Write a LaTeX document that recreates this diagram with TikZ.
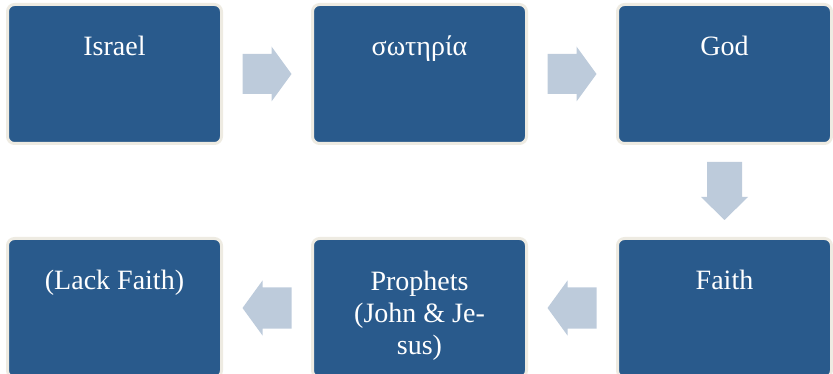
\documentclass[tikz,border=0pt]{standalone}
\usepackage{fontspec}
\setmainfont{Liberation Serif}
\usetikzlibrary{positioning,calc}
\definecolor{boxblue}{RGB}{41,90,140}
\definecolor{boxrim}{RGB}{238,235,226}
\definecolor{arrowgray}{RGB}{189,203,219}

\tikzset{
  stagebox/.style={draw=boxrim, line width=3pt, fill=boxblue, rounded corners=7pt,
    minimum width=214pt, minimum height=139pt, inner sep=0pt},
  stagetext/.style={text=white, font=\fontsize{28}{32}\selectfont, align=center,
    anchor=base, inner sep=0pt},
  pics/blockarrow/.style n args={4}{code={
    \fill[arrowgray] ({-#1/2},{-#2/2}) -- ({#1/2-#4},{-#2/2}) -- ({#1/2-#4},{-#3/2})
      -- ({#1/2},0) -- ({#1/2-#4},{#3/2}) -- ({#1/2-#4},{#2/2}) -- ({-#1/2},{#2/2}) -- cycle;
  }}
}

\begin{document}
\begin{tikzpicture}[x=1pt, y=1pt]
    \useasboundingbox (0,0) rectangle (833,-374);
    \clip (0,0) rectangle (833,-374);

    % Top row
    \node[stagebox] (israel) at (114.5,-74) {};
    \node[stagebox, right=88pt of israel] (soteria) {};
    \node[stagebox, right=88pt of soteria] (god) {};

    % Bottom row, right to left
    \node[stagebox, below=92pt of god] (faith) {};
    \node[stagebox, left=88pt of faith] (prophets) {};
    \node[stagebox, left=88pt of prophets] (lackfaith) {};

    % Labels at the top of each box (base = last line, so three lines sit 64pt lower)
    \node[stagetext] (israel-t) at ([yshift=-53pt]israel.north) {Israel};
    \node[stagetext] (soteria-t) at ([yshift=-53pt]soteria.north) {σωτηρία};
    \node[stagetext] (god-t) at ([yshift=-53pt]god.north) {God};
    \node[stagetext] (faith-t) at ([yshift=-53pt]faith.north) {Faith};
    \node[stagetext] (prophets-t) at ([yshift=-117pt]prophets.north) {Prophets\\(John \& Je-\\sus)};
    \node[stagetext] (lackfaith-t) at ([yshift=-53pt]lackfaith.north) {(Lack Faith)};

    % Block arrows between boxes
    \pic at ($(israel.east)!0.5!(soteria.west)$) {blockarrow={49}{40}{55}{20}};
    \pic at ($(soteria.east)!0.5!(god.west)$) {blockarrow={49}{40}{55}{20}};
    \pic[rotate=-90] at ($(god.south)!0.5!(faith.north)$) {blockarrow={58}{35}{47}{23}};
    \pic[rotate=180] at ($(faith.west)!0.5!(prophets.east)$) {blockarrow={49}{41}{55}{20}};
    \pic[rotate=180] at ($(prophets.west)!0.5!(lackfaith.east)$) {blockarrow={49}{41}{55}{20}};
\end{tikzpicture}
\end{document}
